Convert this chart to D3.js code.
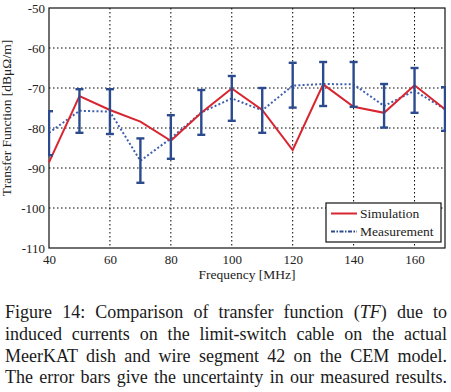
<!DOCTYPE html>
<html>
<head>
<meta charset="utf-8">
<script src="https://cdn.jsdelivr.net/npm/d3@7"></script>
<style>
  body { margin: 0; background: #fff; }
  svg, svg text { font-family: "Liberation Serif", "Times New Roman", Times, "DejaVu Serif", serif !important; }
</style>
</head>
<body>
<div id="chart"></div>
<script>
// data
const freqs = [40, 50, 60, 70, 80, 90, 100, 110, 120, 130, 140, 150, 160, 170];
const simulation = [-88.6, -72, -75.5, -78.4, -83.2, -76.2, -70.1, -75.5, -85.5, -69.1, -74.7, -76.2, -69.3, -75.3];
const measurement = [-81.2, -75.7, -75.9, -88.2, -82.6, -76.1, -72.6, -75.6, -69.4, -69.0, -69.1, -74.5, -70.7, -75.3];
const errLow = [-86.8, -81.2, -81.5, -93.7, -87.7, -81.7, -78.2, -81.2, -74.9, -74.5, -74.7, -79.9, -76.2, -80.7];
const errHigh = [-75.8, -70.3, -70.3, -82.6, -76.8, -70.5, -67.0, -70.0, -63.7, -63.5, -63.5, -69.0, -65.0, -69.8];
const xTicks = [40, 60, 80, 100, 120, 140, 160];
const yTicks = [-50, -60, -70, -80, -90, -100, -110];
const legendNames = ["Simulation", "Measurement"];
const captionLines = [
    "Figure 14:  Comparison of transfer function (*TF*) due to",
    "induced currents on the limit-switch cable on the actual",
    "MeerKAT dish and wire segment 42 on the CEM model.",
    "The error bars give the uncertainty in our measured results."
];

const W = 451, H = 392;
const margin = {top: 8, right: 6, bottom: 144, left: 49};
const width = W - margin.left - margin.right;
const height = H - margin.top - margin.bottom;

const red = "#d82631";
const blueBar = "#2c4b8e";
const blueLine = "#3f5fae";

const svg = d3.select("#chart").append("svg")
    .attr("width", W)
    .attr("height", H);

const g = svg.append("g")
    .attr("transform", "translate(" + margin.left + "," + margin.top + ")");

const x = d3.scaleLinear().domain([40, 170]).range([0, width]);
const y = d3.scaleLinear().domain([-110, -50]).range([height, 0]);

// grid
g.append("g").selectAll("line")
    .data(xTicks.slice(1))
    .join("line")
    .attr("x1", d => x(d)).attr("x2", d => x(d))
    .attr("y1", 0).attr("y2", height)
    .attr("stroke", "#000").attr("stroke-width", 1)
    .attr("stroke-dasharray", "1.5,2.5");

g.append("g").selectAll("line")
    .data(yTicks.slice(1, -1))
    .join("line")
    .attr("x1", 0).attr("x2", width)
    .attr("y1", d => y(d)).attr("y2", d => y(d))
    .attr("stroke", "#000").attr("stroke-width", 1)
    .attr("stroke-dasharray", "1.5,2.5");

// axes
const xAxis = g.append("g")
    .attr("transform", "translate(0," + height + ")")
    .call(d3.axisBottom(x).tickValues(xTicks).tickSize(0).tickPadding(7).tickFormat(d3.format("d")));
const yAxis = g.append("g")
    .call(d3.axisLeft(y).tickValues(yTicks).tickSize(0).tickPadding(4).tickFormat(d => d));

[xAxis, yAxis].forEach(a => {
    a.attr("font-family", null);
    a.select(".domain").remove();
    a.selectAll("text")
        .attr("fill", "#222")
        .style("font-size", "13px");
});

// frame
g.append("rect")
    .attr("width", width).attr("height", height)
    .attr("fill", "none").attr("stroke", "#111").attr("stroke-width", 1.2);

// clip
g.append("defs").append("clipPath").attr("id", "clip")
    .append("rect").attr("x", -1).attr("y", -1).attr("width", width + 2).attr("height", height + 2);

const plot = g.append("g").attr("clip-path", "url(#clip)");

const line = d3.line()
    .x((d, i) => x(freqs[i]))
    .y(d => y(d));

// measurement dotted line
plot.append("path")
    .datum(measurement)
    .attr("d", line)
    .attr("fill", "none")
    .attr("stroke", blueLine)
    .attr("stroke-width", 2)
    .attr("stroke-dasharray", "2,2.2");

// simulation
plot.append("path")
    .datum(simulation)
    .attr("d", line)
    .attr("fill", "none")
    .attr("stroke", red)
    .attr("stroke-width", 2);

// error bars
const bars = plot.append("g").selectAll("g")
    .data(freqs)
    .join("g");
bars.append("line")
    .attr("x1", d => x(d)).attr("x2", d => x(d))
    .attr("y1", (d, i) => y(errLow[i])).attr("y2", (d, i) => y(errHigh[i]));
bars.append("line")
    .attr("x1", d => x(d) - 4).attr("x2", d => x(d) + 4)
    .attr("y1", (d, i) => y(errLow[i])).attr("y2", (d, i) => y(errLow[i]));
bars.append("line")
    .attr("x1", d => x(d) - 4).attr("x2", d => x(d) + 4)
    .attr("y1", (d, i) => y(errHigh[i])).attr("y2", (d, i) => y(errHigh[i]));
bars.selectAll("line")
    .attr("stroke", blueBar)
    .attr("stroke-width", 2.4);

// axis titles
g.append("text")
    .attr("x", width / 2).attr("y", height + 31)
    .attr("text-anchor", "middle")
    .style("font-size", "13.5px")
    .attr("fill", "#222")
    .text("Frequency [MHz]");

g.append("text")
    .attr("transform", "translate(" + (-38) + "," + (height / 2 - 10) + ") rotate(-90)")
    .attr("text-anchor", "middle")
    .style("font-size", "13.5px")
    .attr("fill", "#222")
    .text("Transfer Function [dBμΩ/m]");

// legend
const lg = g.append("g").attr("transform", "translate(" + (326 - margin.left) + "," + (203 - margin.top) + ")");
lg.append("rect")
    .attr("width", 115).attr("height", 39)
    .attr("fill", "#fff").attr("stroke", "#111").attr("stroke-width", 1.2);
legendNames.forEach((name, i) => {
    const yy = 10.5 + i * 18;
    lg.append("line")
        .attr("x1", 5).attr("x2", 31)
        .attr("y1", yy).attr("y2", yy)
        .attr("stroke", i === 0 ? red : blueBar)
        .attr("stroke-width", 2)
        .attr("stroke-dasharray", i === 0 ? null : "4,1.5,1.5,1.5");
    lg.append("text")
        .attr("x", 34).attr("y", yy + 4.5)
        .style("font-size", "13.5px")
        .attr("fill", "#222")
        .text(name);
});

// caption, justified to the column width
const capLeft = 5, capRight = 447, capTop = 318.3, capStep = 21.7;
captionLines.forEach((ln, i) => {
    const t = svg.append("text")
        .attr("x", capLeft)
        .attr("y", capTop + i * capStep)
        .style("font-size", "18px")
        .attr("fill", "#1a1a1a");
    ln.split("*").forEach((part, j) => {
        t.append("tspan")
            .style("font-style", j % 2 === 1 ? "italic" : "normal")
            .text(part);
    });
    const natural = t.node().getComputedTextLength();
    const spaces = (ln.replace(/  +/g, " ").match(/ /g) || []).length;
    if (spaces > 0) {
        t.style("word-spacing", ((capRight - capLeft - natural) / spaces) + "px");
    }
});
</script>
</body>
</html>
